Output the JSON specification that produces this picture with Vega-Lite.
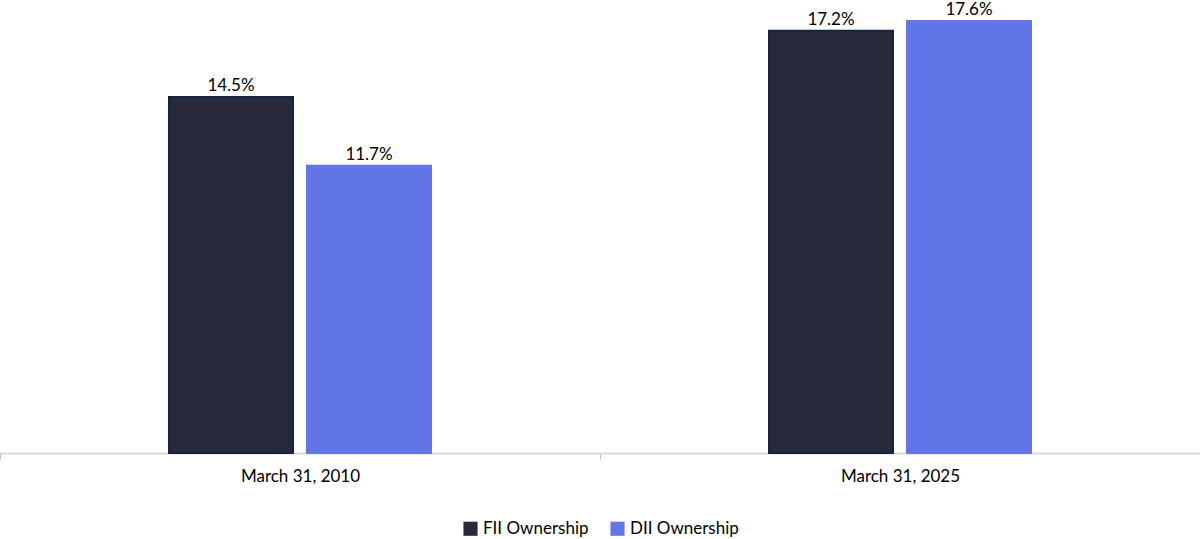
{
  "$schema": "https://vega.github.io/schema/vega-lite/v6.json",
  "width": 1200,
  "height": 451,
  "padding": {"top": 2, "left": 0, "right": 0, "bottom": 86},
  "autosize": {"type": "none"},
  "data": {
    "values": [
      {"date": "March 31, 2010", "series": "FII Ownership", "share": 0.145},
      {"date": "March 31, 2010", "series": "DII Ownership", "share": 0.117},
      {"date": "March 31, 2025", "series": "FII Ownership", "share": 0.172},
      {"date": "March 31, 2025", "series": "DII Ownership", "share": 0.176}
    ]
  },
  "encoding": {
    "x": {
      "field": "date", "type": "nominal", "title": null,
      "scale": {"paddingInner": 0, "paddingOuter": 0},
      "axis": {
        "labelAngle": 0, "labelFontSize": 17, "labelFont": "Lato", "labelColor": "#000000",
        "domainColor": "#d9d9d9", "domainWidth": 2, "tickColor": "#bfbfbf", "tickSize": 6,
        "tickBand": "extent", "labelPadding": 9
      }
    },
    "xOffset": {
      "field": "series", "type": "nominal",
      "sort": ["FII Ownership", "DII Ownership"],
      "scale": {"range": [169, 431], "paddingInner": 0.1014, "paddingOuter": 0}
    },
    "y": {
      "field": "share", "type": "quantitative",
      "scale": {"domain": [0, 0.1837]},
      "axis": null
    }
  },
  "layer": [
    {
      "mark": {"type": "bar", "strokeWidth": 2},
      "encoding": {
        "color": {
          "field": "series", "type": "nominal",
          "sort": ["FII Ownership", "DII Ownership"],
          "scale": {"domain": ["FII Ownership", "DII Ownership"], "range": ["#282a3c", "#6275e8"]},
          "legend": {
            "title": null, "orient": "none", "direction": "horizontal",
            "legendX": 462, "legendY": 518,
            "symbolType": "square", "symbolSize": 200, "symbolStrokeWidth": 0,
            "labelFontSize": 17, "labelFont": "Lato", "labelColor": "#000000",
            "columnPadding": 20, "labelOffset": 4
          }
        },
        "stroke": {
          "field": "series", "type": "nominal",
          "scale": {"domain": ["FII Ownership", "DII Ownership"], "range": ["#15253f", "#6275e8"]},
          "legend": null
        }
      }
    },
    {
      "mark": {"type": "text", "baseline": "bottom", "dy": -2, "fontSize": 17, "font": "Lato", "color": "#000000"},
      "encoding": {
        "text": {"field": "share", "type": "quantitative", "format": ".1%"}
      }
    }
  ],
  "config": {
    "view": {"stroke": null},
    "axis": {"grid": false}
  }
}
